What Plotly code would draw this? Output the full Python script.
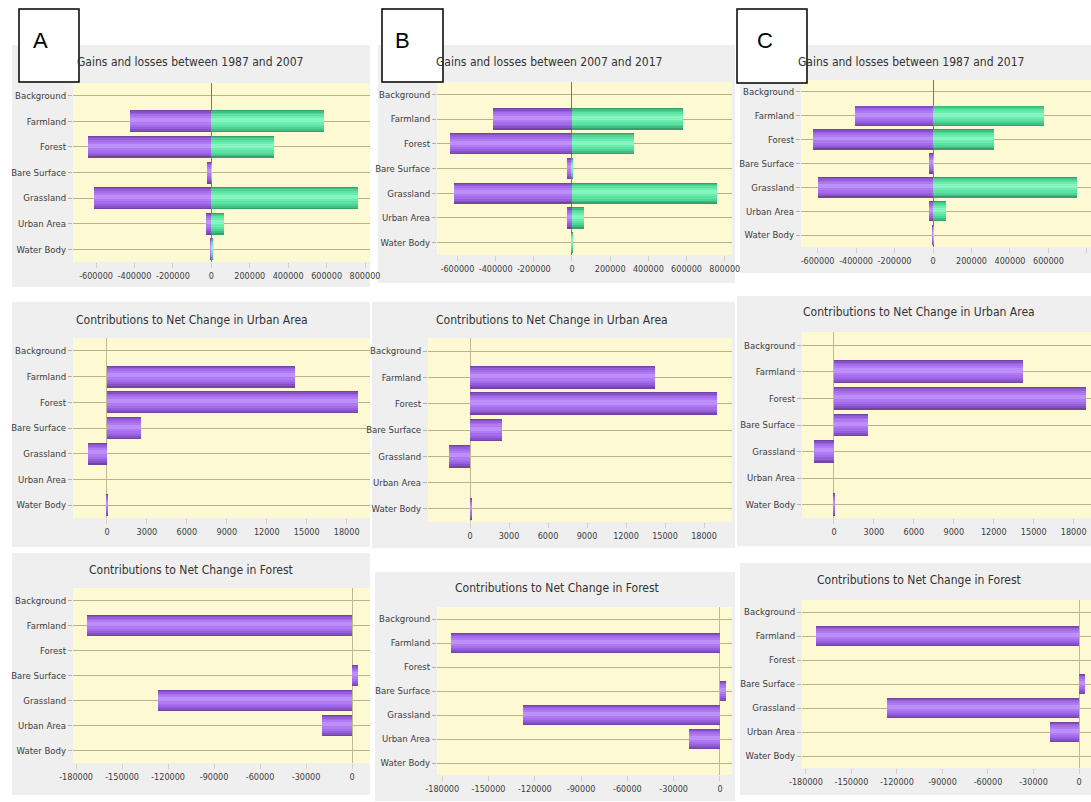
import plotly.graph_objects as go

W, H = 1091, 802

# ---------------- data ----------------
categories = ["Background", "Farmland", "Forest", "Bare Surface", "Grassland", "Urban Area", "Water Body"]

# Gains and losses (area units)
losses_1987_2007 = [0, -421000, -644000, -21000, -613000, -26000, -5000]
gains_1987_2007 = [0, 587000, 327000, 3000, 764000, 68000, 4000]
losses_2007_2017 = [0, -413000, -639000, -26000, -618000, -26000, -3000]
gains_2007_2017 = [0, 581000, 325000, 2000, 759000, 63000, 3000]
losses_1987_2017 = [0, -405000, -623000, -21000, -597000, -21000, -3000]
gains_1987_2017 = [0, 577000, 317000, 2000, 748000, 68000, 3000]

# Contributions to net change in Urban Area
urban_1987_2007 = [0, 14100, 18850, 2550, -1450, 0, 100]
urban_2007_2017 = [0, 14200, 19000, 2450, -1600, 0, 100]
urban_1987_2017 = [0, 14200, 18950, 2550, -1500, 0, 100]

# Contributions to net change in Forest
forest_1987_2007 = [0, -172800, 0, 3900, -126500, -19600, 0]
forest_2007_2017 = [0, -174300, 0, 3900, -127600, -20100, 0]
forest_1987_2017 = [0, -173400, 0, 4000, -126600, -19100, 0]

# tick labels
gl_tickvals = [-600000, -400000, -200000, 0, 200000, 400000, 600000, 800000]
gl_ticktext = ["-600000", "-400000", "-200000", "0", "200000", "400000", "600000", "800000"]
urban_tickvals = [0, 3000, 6000, 9000, 12000, 15000, 18000]
urban_ticktext = ["0", "3000", "6000", "9000", "12000", "15000", "18000"]
forest_tickvals = [-180000, -150000, -120000, -90000, -60000, -30000, 0]
forest_ticktext = ["-180000", "-150000", "-120000", "-90000", "-60000", "-30000", "0"]

panel_letters = ["A", "B", "C"]
title_gl = ["Gains and losses between 1987 and 2007",
            "Gains and losses between 2007 and 2017",
            "Gains and losses between 1987 and 2017"]
title_urban = "Contributions to Net Change in Urban Area"
title_forest = "Contributions to Net Change in Forest"

# ---------------- styling ----------------
FONT = "Liberation Sans Narrow, DejaVu Sans Condensed, Arial Narrow, sans-serif"
PURPLE = ["#74449f", "#8651c4", "#9660dd", "#a56cec", "#b07af3", "#bd8ff8"]
GREEN = ["#35a070", "#42bd84", "#4fd494", "#5be3a1", "#6aedad", "#86f5c2"]
WIDTHS = [0.86, 0.76, 0.64, 0.50, 0.34, 0.16]
SHIFTS = [0.0, -0.01, -0.02, -0.03, -0.04, -0.05]
GRAY_BG = "#efeff0"
YELLOW_BG = "#fdf9d2"
GRID = "#bab28c"


def fx(x):
    return x / W


def fy(y):
    return 1 - y / H


# panel geometry (pixels): plot rect, gray rect, title center
panels = [
    # row 1 : gains & losses
    dict(plot=(73, 370, 83, 262), gray=(12, 370, 45, 287), title=(190, 62), rng=(-720000, 826000)),
    dict(plot=(437, 732, 82, 255), gray=(378, 735, 45, 283), title=(549, 62), rng=(-707000, 838000)),
    dict(plot=(801, 1091, 80, 247), gray=(740, 1091, 45, 273), title=(911, 62), rng=(-686000, 821000)),
    # row 2 : urban
    dict(plot=(73, 370, 338, 518), gray=(12, 370, 302, 547), title=(192, 320), rng=(-2550, 19750)),
    dict(plot=(428, 732, 338, 522), gray=(372, 735, 302, 548), title=(552, 320), rng=(-3230, 20150)),
    dict(plot=(802, 1091, 332, 518), gray=(737, 1091, 296, 546), title=(919, 312), rng=(-2400, 19300)),
    # row 3 : forest
    dict(plot=(73, 370, 588, 763), gray=(12, 370, 553, 795), title=(191, 570), rng=(-182000, 11700)),
    dict(plot=(437, 732, 607, 775), gray=(375, 735, 572, 801), title=(557, 588), rng=(-183400, 7800)),
    dict(plot=(802, 1091, 600, 768), gray=(740, 1091, 563, 795), title=(919, 580), rng=(-182600, 7900)),
]

series = [
    [(losses_1987_2007, PURPLE), (gains_1987_2007, GREEN)],
    [(losses_2007_2017, PURPLE), (gains_2007_2017, GREEN)],
    [(losses_1987_2017, PURPLE), (gains_1987_2017, GREEN)],
    [(urban_1987_2007, PURPLE)],
    [(urban_2007_2017, PURPLE)],
    [(urban_1987_2017, PURPLE)],
    [(forest_1987_2007, PURPLE)],
    [(forest_2007_2017, PURPLE)],
    [(forest_1987_2017, PURPLE)],
]
titles = title_gl + [title_urban] * 3 + [title_forest] * 3
ticks = [(gl_tickvals, gl_ticktext)] * 3 + [(urban_tickvals, urban_ticktext)] * 3 + [(forest_tickvals, forest_ticktext)] * 3

fig = go.Figure()
shapes = []
annotations = []
layout_axes = {}

# gray frames first
for p in panels:
    gx0, gx1, gy0, gy1 = p["gray"]
    shapes.append(dict(type="rect", xref="paper", yref="paper", layer="below",
                       x0=fx(gx0), x1=fx(gx1), y0=fy(gy1), y1=fy(gy0),
                       fillcolor=GRAY_BG, line=dict(width=0)))
# yellow plot areas
for p in panels:
    x0, x1, y0, y1 = p["plot"]
    shapes.append(dict(type="rect", xref="paper", yref="paper", layer="below",
                       x0=fx(x0), x1=fx(x1), y0=fy(y1), y1=fy(y0),
                       fillcolor=YELLOW_BG, line=dict(width=0)))

for i, p in enumerate(panels):
    n = i + 1
    xa = "x" if n == 1 else f"x{n}"
    ya = "y" if n == 1 else f"y{n}"
    for values, cols in series[i]:
        for w, s, c in zip(WIDTHS, SHIFTS, cols):
            fig.add_trace(go.Bar(x=values, y=categories, orientation="h",
                                 width=w, offset=-w / 2 + s,
                                 marker=dict(color=c, line=dict(width=0)),
                                 xaxis=xa, yaxis=ya, showlegend=False, hoverinfo="x+y"))
    x0, x1, y0, y1 = p["plot"]
    tv, tt = ticks[i]
    top_row = i < 3
    layout_axes[f"xaxis{n}" if n > 1 else "xaxis"] = dict(
        domain=[fx(x0), fx(x1)], anchor=ya, range=list(p["rng"]), automargin=False,
        tickvals=tv, ticktext=tt, showgrid=False, tickangle=0,
        zeroline=True, zerolinecolor="#7d776a" if top_row else "#c2b994", zerolinewidth=1,
        ticks="outside", ticklen=5, tickcolor="#d6d1c0", showline=False,
        tickfont=dict(family=FONT, size=9, color="#3c3c3c"), fixedrange=True)
    layout_axes[f"yaxis{n}" if n > 1 else "yaxis"] = dict(
        domain=[fy(y1), fy(y0)], anchor=xa, type="category", automargin=False,
        categoryorder="array", categoryarray=categories, range=[6.5, -0.5],
        showgrid=True, gridcolor=GRID, gridwidth=1,
        ticks="outside", ticklen=4, tickcolor=GRID, showline=False, zeroline=False,
        tickfont=dict(family=FONT, size=9.5, color="#3c3c3c"), fixedrange=True)
    tx, ty = p["title"]
    annotations.append(dict(text=titles[i], x=fx(tx), y=fy(ty), xref="paper", yref="paper",
                            xanchor="center", yanchor="middle", showarrow=False,
                            font=dict(family=FONT, size=12, color="#333333")))

# letter boxes
letter_boxes = [(19, 79, 9, 82, 40, 40), (382, 443, 9, 82, 402, 40), (737, 807, 9, 83, 765, 40)]
for letter, (bx0, bx1, by0, by1, lx, ly) in zip(panel_letters, letter_boxes):
    shapes.append(dict(type="rect", xref="paper", yref="paper", layer="above",
                       x0=fx(bx0), x1=fx(bx1), y0=fy(by1), y1=fy(by0),
                       fillcolor="white", line=dict(color="black", width=1.5)))
    annotations.append(dict(text=letter, x=fx(lx), y=fy(ly), xref="paper", yref="paper",
                            xanchor="center", yanchor="middle", showarrow=False,
                            font=dict(family="Liberation Sans, Arial, sans-serif", size=22, color="black")))

fig.update_layout(
    width=W, height=H, margin=dict(l=0, r=0, t=0, b=0, autoexpand=False),
    paper_bgcolor="white", plot_bgcolor="rgba(0,0,0,0)",
    barmode="overlay", bargap=0, showlegend=False,
    shapes=shapes, annotations=annotations, **layout_axes)

fig.write_html("out.html", config={"displayModeBar": False},
               post_script="document.body.style.margin='0';document.body.style.overflow='hidden';")
